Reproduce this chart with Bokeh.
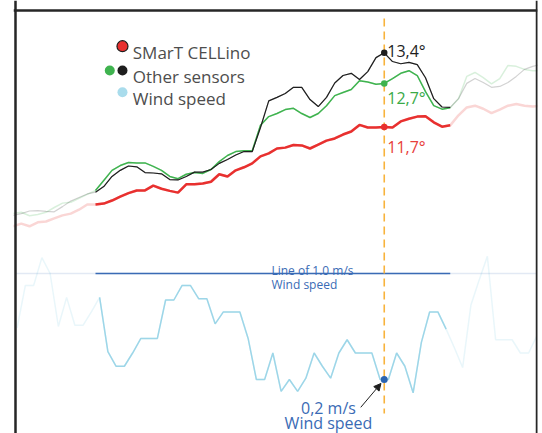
from bokeh.plotting import figure
from bokeh.models import Range1d, Span, Arrow, NormalHead
from bokeh.core.properties import value
from bokeh.embed import file_html
from bokeh.resources import INLINE

# ---------------- data ----------------
x_temp = list(range(-10, 55))
red = [9.43, 9.49, 9.43, 9.52, 9.54, 9.61, 9.68, 9.72, 9.81, 9.93,
       9.93, 9.95, 10.02, 10.11, 10.19, 10.25, 10.25, 10.36, 10.29, 10.24,
       10.20, 10.39, 10.39, 10.41, 10.45, 10.62, 10.57, 10.71, 10.78, 10.87,
       11.03, 11.10, 11.21, 11.23, 11.29, 11.28, 11.21, 11.30, 11.39, 11.44,
       11.53, 11.60, 11.75, 11.69, 11.69, 11.70, 11.69, 11.83, 11.89, 11.94,
       11.95, 11.81, 11.71, 11.74, 11.97, 12.15, 12.19, 12.12, 12.02, 12.10,
       12.19, 12.23, 12.19, 12.17, 12.19]
green = [9.72, 9.75, 9.67, 9.70, 9.75, 9.86, 9.96, 9.98, 10.07, 10.16,
         10.25, 10.48, 10.71, 10.82, 10.89, 10.88, 10.88, 10.80, 10.71, 10.57,
         10.52, 10.62, 10.66, 10.64, 10.73, 10.91, 11.05, 11.14, 11.16, 11.16,
         11.74, 11.94, 12.01, 12.10, 12.13, 12.01, 11.92, 12.01, 12.19, 12.42,
         12.49, 12.56, 12.76, 12.73, 12.68, 12.70, 12.81, 12.93, 12.99, 12.88,
         12.51, 12.19, 12.11, 12.14, 12.35, 12.86, 12.95, 12.83, 12.69, 12.81,
         13.11, 13.09, 13.02, 12.99, 12.99]
black = [9.68, 9.72, 9.78, 9.79, 9.77, 9.76, 9.88, 10.01, 10.09, 10.17,
         10.21, 10.34, 10.57, 10.71, 10.81, 10.79, 10.66, 10.65, 10.63, 10.50,
         10.49, 10.57, 10.67, 10.67, 10.73, 10.87, 10.96, 11.06, 11.14, 11.14,
         11.69, 12.30, 12.38, 12.47, 12.61, 12.61, 12.33, 12.17, 12.38, 12.71,
         12.88, 12.93, 12.79, 12.97, 13.29, 13.40, 13.20, 13.15, 13.18, 13.13,
         12.83, 12.35, 12.16, 12.15, 12.35, 12.70, 12.81, 12.72, 12.61, 12.63,
         12.72, 12.86, 13.02, 13.09, 13.13]
x_wind = [k + 0.5 for k in range(-10, 54)]
wind = [0.59, 0.91, 0.91, 1.12, 1.00, 0.60, 0.82, 0.61, 0.61, 0.71,
        0.82, 0.41, 0.30, 0.30, 0.40, 0.51, 0.51, 0.51, 0.80, 0.80,
        0.91, 0.91, 0.81, 0.81, 0.62, 0.71, 0.71, 0.71, 0.51, 0.20,
        0.20, 0.40, 0.11, 0.20, 0.11, 0.21, 0.40, 0.30, 0.21, 0.40,
        0.50, 0.40, 0.40, 0.40, 0.20, 0.20, 0.40, 0.30, 0.10, 0.48,
        0.71, 0.71, 0.58, 0.44, 0.29, 0.76, 0.95, 1.13, 0.50, 0.50,
        0.50, 0.40, 0.40, 0.53]
legend_labels = ["SMarT CELLino", "Other sensors", "Wind speed"]
highlight_start, highlight_end = 0, 43
selected_x = 35
wind_ref = 1.0

# ---------------- colours ----------------
RED = "#e8302f"
GREEN = "#3fb34f"
BLACK = "#1e1e1e"
WIND = "#9dd6e8"
BLUE = "#3a6bb5"
ORANGE = "#f8b33c"
FRAME = "#262626"
FADE = 0.2

p = figure(width=542, height=433, output_backend="svg", toolbar_location=None,
           x_range=Range1d(-9.939, 53.576), y_range=Range1d(4.6883, 14.5968),
           x_axis_location=None, y_axis_location=None,
           min_border=0, min_border_left=13, min_border_right=5)
p.extra_y_ranges = {"wind": Range1d(-0.2075, 3.0604)}
p.grid.visible = False
p.outline_line_color = None
p.background_fill_color = "white"
p.border_fill_color = "white"

FONT = value("Open Sans")

# wind speed line
p.line(x_wind, wind, line_color=WIND, line_alpha=0.22, line_width=1.5, y_range_name="wind")
wi = [i for i, x in enumerate(x_wind) if highlight_start + 0.5 <= x <= highlight_end - 0.5]
p.line([x_wind[i] for i in wi], [wind[i] for i in wi], line_color=WIND, line_width=1.5,
       y_range_name="wind")

# reference line of 1.0 m/s
p.segment(x0=[-9.697], y0=[wind_ref], x1=[53.515], y1=[wind_ref], line_color=BLUE,
          line_alpha=0.15, line_width=1.3, y_range_name="wind")
p.segment(x0=[highlight_start], y0=[wind_ref], x1=[highlight_end], y1=[wind_ref],
          line_color=BLUE, line_width=1.3, y_range_name="wind")
p.text(x=[21.33, 21.33], y=[wind_ref, wind_ref], text=["Line of 1.0 m/s", "Wind speed"],
       y_offset=[-3.5, 11], text_font=FONT, text_font_size="12px", text_color=BLUE,
       text_align="left", text_baseline="alphabetic", y_range_name="wind")

# dashed selection line
p.segment(x0=[selected_x], y0=[14.185], x1=[selected_x], y1=[5.146], line_color=ORANGE,
          line_width=1.6, line_dash="8 5")

# temperature lines
ti = [i for i, x in enumerate(x_temp) if highlight_start <= x <= highlight_end]
for ys, col, lw in [(green, GREEN, 1.5), (black, BLACK, 1.2), (red, RED, 2.5)]:
    p.line(x_temp, ys, line_color=col, line_alpha=FADE, line_width=lw)
for ys, col, lw in [(green, GREEN, 1.5), (black, BLACK, 1.2), (red, RED, 2.5)]:
    p.line([x_temp[i] for i in ti], [ys[i] for i in ti], line_color=col, line_width=lw)

# selected points
si = x_temp.index(selected_x)
sel_vals = [black[si], green[si], red[si]]
sel_cols = [BLACK, "#3aaa47", "#e8403b"]
p.scatter(x=[selected_x] * 3, y=sel_vals, size=6.5, fill_color=[BLACK, GREEN, RED],
          line_color=None)
p.text(x=[selected_x] * 3, y=sel_vals,
       text=[f"{v:.1f}°".replace(".", ",") for v in sel_vals],
       x_offset=3, y_offset=[-2, 15, 20], text_font=FONT, text_font_size="16px",
       text_color=sel_cols, text_align="left", text_baseline="alphabetic")

# wind selected point
wsel = wind[x_wind.index(selected_x - 0.5)]
p.scatter(x=[selected_x], y=[wsel], size=7, fill_color="#2c64b0", line_color=None,
          y_range_name="wind")
p.text(x=[28.24, 28.24], y=[-0.0166, -0.1245],
       text=[f"{wsel:.1f} m/s".replace(".", ","), "Wind speed"],
       text_font=FONT, text_font_size="16px", text_color=BLUE,
       text_align="center", text_baseline="alphabetic", y_range_name="wind")
p.add_layout(Arrow(end=NormalHead(size=7, fill_color=BLACK, line_color=BLACK, line_width=1),
                   x_start=32.15, y_start=-0.01, x_end=34.6, y_end=0.17,
                   line_color=BLACK, line_width=1, y_range_name="wind"))

# legend
leg_y = [13.551, 12.995, 12.498]
p.scatter(x=[3.27], y=[leg_y[0]], size=11, fill_color=RED, line_color=BLACK, line_width=1.2)
p.scatter(x=[1.73, 3.27], y=[leg_y[1], leg_y[1]], size=10, fill_color=[GREEN, BLACK],
          line_color=None)
p.scatter(x=[3.27], y=[leg_y[2]], size=10, fill_color="#a9dcec", line_color=None)
p.text(x=[4.52] * 3, y=leg_y, text=legend_labels, y_offset=6.5, text_font=FONT,
       text_font_size="17px", text_color="#4d4d4d", text_align="left",
       text_baseline="alphabetic")

# frame lines (left, right, top)
p.add_layout(Span(location=-9.697, dimension="height", line_color=FRAME, line_width=2.5))
p.add_layout(Span(location=53.515, dimension="height", line_color=FRAME, line_width=2.5))
p.add_layout(Span(location=14.368, dimension="width", line_color=FRAME, line_width=2.5))

open("out.html", "w").write(file_html(p, INLINE))
